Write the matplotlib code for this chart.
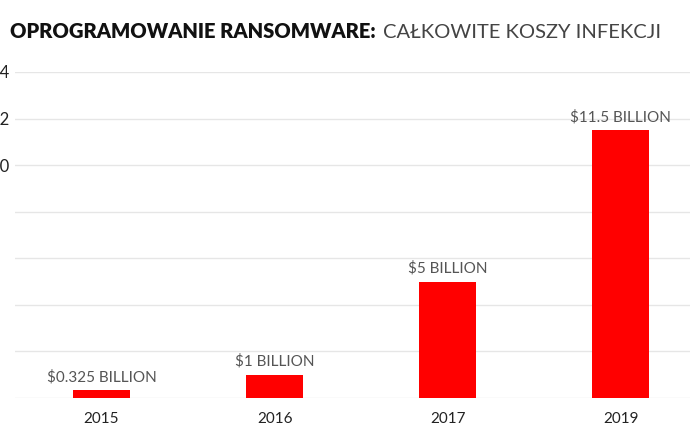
import matplotlib.pyplot as plt

years = ["2015", "2016", "2017", "2019"]
costs = [0.325, 1, 5, 11.5]
labels = ["$0.325 BILLION", "$1 BILLION", "$5 BILLION", "$11.5 BILLION"]
yticks = [0, 2, 4, 6, 8, 10, 12, 14]
ytick_labels = ["", "", "", "", "", "10", "12", "14"]

fig = plt.figure(figsize=(7, 4.41), dpi=100)
ax = fig.add_axes([15 / 700, 43 / 441, 675 / 700, 326 / 441])

x = range(len(years))
ax.bar(x, costs, width=0.33, color="#ff0000", zorder=3)
for xi, v, lab in zip(x, costs, labels):
    ax.text(xi, v + 0.25, lab, ha="center", va="bottom", fontsize=11,
            family="Lato", color="#555555")

ax.set_xlim(-0.5, 3.4)
ax.set_ylim(0, 14)
ax.set_xticks(list(x))
ax.set_xticklabels(years, family="Lato", fontsize=11, color="#222222")
ax.set_yticks(yticks)
ax.set_yticklabels(ytick_labels, family="Lato", fontsize=12, color="#222222")
ax.tick_params(axis="x", length=0, pad=10)
ax.tick_params(axis="y", length=0, pad=4)
ax.grid(axis="y", color="#e6e6e6", linewidth=1, zorder=0)
for s in ax.spines.values():
    s.set_visible(False)

fig.text(10 / 700, 1 - 32 / 441, "OPROGRAMOWANIE RANSOMWARE:", family="Lato",
         weight="heavy", fontsize=14.5, color="#111111", va="center")
fig.text(383 / 700, 1 - 32 / 441, "CAŁKOWITE KOSZY INFEKCJI", family="Lato",
         weight="normal", fontsize=14.5, color="#444444", va="center")

fig.savefig("out.png", dpi=100)
